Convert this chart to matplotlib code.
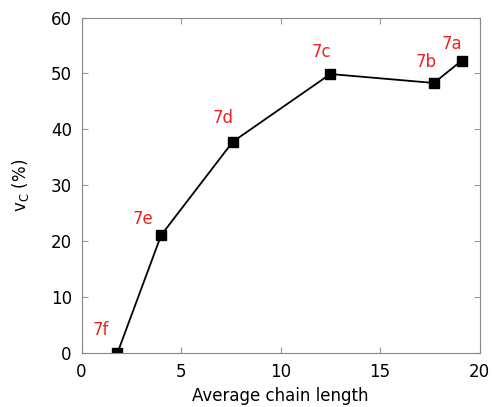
import matplotlib
matplotlib.use("Agg")
import matplotlib.pyplot as plt

# chain length vs v_C
chain_len = [1.8, 4.0, 7.6, 12.5, 17.7, 19.1]
v_c = [0.0, 21.1, 37.8, 49.9, 48.3, 52.3]
names = ["7f", "7e", "7d", "7c", "7b", "7a"]
# label positions (data coords)
lab_x = [0.95, 3.1, 7.1, 12.05, 17.3, 18.6]
lab_y = [4.1, 24.0, 42.0, 53.9, 52.1, 55.2]

fig = plt.figure(figsize=(4.94, 4.07), dpi=100)
ax = fig.add_axes([0.165, 0.132, 0.806, 0.825])

ax.plot(chain_len, v_c, color="black", lw=1.3, marker="s", ms=7, mec="black", mfc="black")
for n, x, y in zip(names, lab_x, lab_y):
    ax.text(x, y, n, color="#ee2222", fontsize=12, ha="center", va="center")

ax.set_xlim(0, 20)
ax.set_ylim(0, 60)
ax.set_xticks([0, 5, 10, 15, 20])
ax.set_yticks([0, 10, 20, 30, 40, 50, 60])
ax.tick_params(direction="in", top=True, right=True, labelsize=12, color="#999999", length=4, pad=7)
for s in ax.spines.values():
    s.set_color("#888888")
ax.set_xlabel("Average chain length", fontsize=12, labelpad=4)
ax.set_ylabel(r"$\mathregular{v_C}$ (%)", fontsize=12, labelpad=14)

fig.savefig("out.png", dpi=100)
